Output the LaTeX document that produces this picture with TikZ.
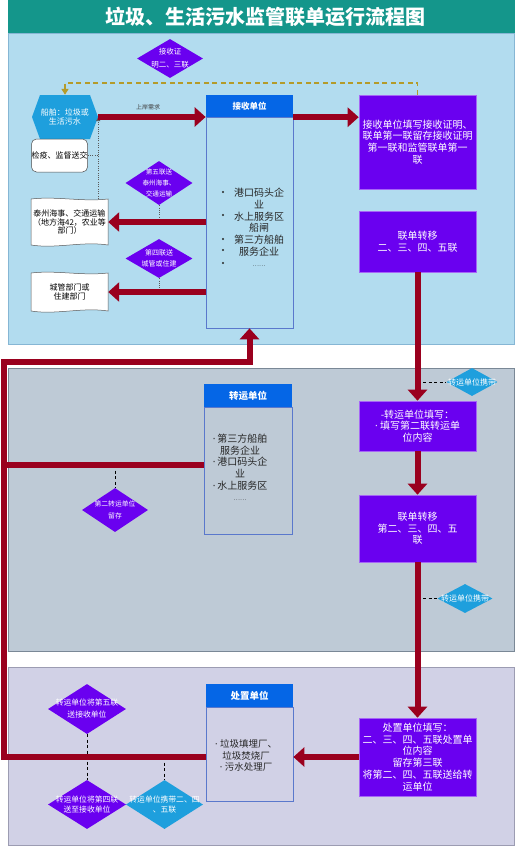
\documentclass[tikz,border=0pt]{standalone}
\usepackage{fontspec}
\setmainfont{Noto Sans CJK SC}
\newfontfamily\latinf{DejaVu Sans}
\usetikzlibrary{arrows.meta,shapes.geometric,calc}
\definecolor{titlec}{HTML}{14968B}
\definecolor{secA}{HTML}{B2DCEF}
\definecolor{secAb}{HTML}{86B6D4}
\definecolor{secB}{HTML}{BECAD6}
\definecolor{secBb}{HTML}{7A8896}
\definecolor{secC}{HTML}{D1D1E6}
\definecolor{secCb}{HTML}{9C9CB2}
\definecolor{pur}{HTML}{6A00F0}
\definecolor{hdrc}{HTML}{0566E6}
\definecolor{cyanc}{HTML}{1E9FDD}
\definecolor{redc}{HTML}{9A001E}
\definecolor{olivec}{HTML}{B49B2A}
\definecolor{bodyc}{HTML}{5A78CC}
\newcommand{\tapeshape}[4]{\draw[docline] (#1,#2) .. controls ({#1+(#3-#1)/3},{#2-3}) and ({#1+2*(#3-#1)/3},{#2+3}) .. (#3,#2) -- (#3,#4) .. controls ({#3-(#3-#1)/3},{#4-4}) and ({#3-2*(#3-#1)/3},{#4+4}) .. (#1,#4) -- cycle;}
\newcommand{\mydot}{{\latinf ·}}
\tikzset{
  docline/.style={draw=gray!70!black, line width=0.5pt, fill=white},
  doctext/.style={inner sep=0, align=center, text=black, minimum width=77, font=\fontsize{8}{8.8}\selectfont},
  purbox/.style={fill=pur, draw=pur!60!white, line width=0.6pt, text=white, align=center, minimum width=117, inner sep=1pt, font=\fontsize{10}{11.7}\selectfont},
  hdr/.style={fill=hdrc, text=white, align=center, inner sep=0, font=\bfseries\fontsize{9.5}{11}\selectfont},
  bodyb/.style={draw=bodyc, line width=0.7pt, inner sep=0},
  listtext/.style={align=center, inner sep=0, text=black!85, font=\fontsize{10}{11.7}\selectfont},
  pdia/.style={diamond, fill=pur, inner sep=0},
  bdia/.style={diamond, fill=cyanc, inner sep=0},
  dtext/.style={align=center, inner sep=0, text=white},
  redl/.style={draw=redc, line width=6pt, line join=miter},
  redarrow/.style={redl, -{Triangle[width=19pt,length=11pt]}},
  olived/.style={draw=olivec, line width=1.6pt, dash pattern=on 5pt off 3.5pt, -{Triangle[width=7pt,length=6pt]}},
  bdash/.style={draw=black, line width=0.9pt, dash pattern=on 3pt off 2.5pt},
  gdot/.style={draw=gray!70!black, line width=0.7pt, dash pattern=on 1pt off 1.3pt},
}
\begin{document}
\begin{tikzpicture}[x=1pt,y=-1pt]
\useasboundingbox (0,0) rectangle (515,847);
\fill[white] (0,0) rectangle (515,847);
% sections
\draw[fill=secA, draw=secAb, line width=0.8pt] (8,33) rectangle (514,344);
\draw[fill=secB, draw=secBb, line width=0.8pt] (8.5,368) rectangle (514,651);
\draw[fill=secC, draw=secCb, line width=0.8pt] (8.5,667) rectangle (514,845);
\node[fill=titlec, minimum width=507, minimum height=33, inner sep=0, anchor=north west, text=white, font=\bfseries\fontsize{20}{22}\selectfont] (title) at (8,0) {\hspace*{7pt}垃圾、生活污水监管联单运行流程图};

% ---- section 1 ----
\fill[cyanc] (32,117) -- (40,95) -- (90,95) -- (98,117) -- (90,139) -- (40,139) -- cycle;
\node[minimum width=66, minimum height=44, inner sep=0, text=white, align=center, font=\fontsize{8}{9.2}\selectfont] (hex) at (65,117) {船舶：垃圾或\\生活污水};
\node[draw=gray!60!black, line width=0.5pt, fill=white, rounded corners=5pt, minimum width=55, minimum height=33, inner sep=0, font=\fontsize{8}{9}\selectfont] (rr) at (59.5,155.5) {检疫、监督送交};
\tapeshape{31}{199}{108}{245}
\node[doctext, minimum height=46] (doc1) at (69.5,222) {泰州海事、交通运输\\（地方海42，农业等\\部门）};
\tapeshape{31}{273}{108}{311}
\node[doctext, minimum height=38] (doc2) at (69.5,292) {城管部门或\\住建部门};

\node[pdia, minimum width=66, minimum height=39] (dA) at (170,58.5) {};
\node[dtext, font=\fontsize{7.5}{13}\selectfont] (dAt) at (dA) {接收证\\明二、三联};
\node[pdia, minimum width=67, minimum height=44] (dB) at (159,183) {};
\node[dtext, font=\fontsize{6.6}{11}\selectfont] (dBt) at (dB) {第五联送\\泰州海事、\\交通运输};
\node[pdia, minimum width=67, minimum height=39] (dC) at (159,258.5) {};
\node[dtext, font=\fontsize{7}{10.5}\selectfont] (dCt) at (dC) {第四联送\\城管或住建};

\node[hdr, minimum width=87, minimum height=22, font=\bfseries\fontsize{8.5}{10}\selectfont] (rh) at (249.5,106) {接收单位};
\node[bodyb, minimum width=87, minimum height=211] (rb) at (249.5,222.5) {};
\node[listtext] (rbt) at (259,227.5) {港口码头企\\业\\水上服务区\\船闸\\第三方船舶\\服务企业\\{\fontsize{6}{6}\selectfont ……}};
\foreach \yy in {192,215,239,250,263} \fill[black!85] (223,\yy) circle (1.2);

\node[purbox, minimum height=94] (b1) at (417.5,142) {接收单位填写接收证明、\\联单第一联留存接收证明\\第一联和监管联单第一\\联};
\node[purbox, minimum height=61] (b2) at (417.5,241.5) {联单转移\\二、三、四、五联};

% ---- section 2 ----
\node[purbox, minimum height=50] (tf) at (417.5,426) {-转运单位填写：\\\mydot\ 填写第二联转运单\\位内容};
\node[purbox, minimum height=67] (t2) at (417.5,528.5) {联单转移\\第二、三、四、五\\联};
\node[hdr, minimum width=88, minimum height=23] (th) at (248,395.5) {转运单位};
\node[bodyb, minimum width=88, minimum height=127] (tb) at (248,470.5) {};
\node[listtext] (tbt) at (240,467.5) {\mydot\,第三方船舶\\服务企业\\\mydot\,港口码头企\\业\\\mydot\,水上服务区\\{\fontsize{6}{6}\selectfont ……}};
\node[bdia, minimum width=51, minimum height=28] (bd1) at (472,382) {};
\node[dtext, font=\fontsize{8}{9}\selectfont] (bd1t) at (bd1) {转运单位携带};
\node[bdia, minimum width=55, minimum height=29] (bd2) at (465,598.5) {};
\node[dtext, font=\fontsize{8}{9}\selectfont] (bd2t) at (bd2) {转运单位携带};
\node[pdia, minimum width=66, minimum height=44] (d2) at (115,510) {};
\node[dtext, font=\fontsize{6.8}{12}\selectfont] (d2t) at (d2) {第二转运单位\\留存};

% ---- section 3 ----
\node[hdr, minimum width=87, minimum height=23] (dh) at (249.5,695.5) {处置单位};
\node[bodyb, minimum width=87, minimum height=94] (db) at (249.5,754) {};
\node[listtext, font=\fontsize{9.5}{11.5}\selectfont] (dbt) at (246,755.5) {\mydot\ 垃圾填埋厂、\\垃圾焚烧厂\\\mydot\ 污水处理厂};
\node[purbox, minimum height=78] (df) at (417.5,757) {处置单位填写：\\二、三、四、五联处置单\\位内容\\留存第三联\\将第二、四、五联送给转\\运单位};
\node[pdia, minimum width=78, minimum height=50] (d5s) at (87,709) {};
\node[dtext, font=\fontsize{7.8}{12}\selectfont] (d5st) at (d5s) {转运单位将第五联\\送接收单位};
\node[pdia, minimum width=78, minimum height=49] (d4s) at (87,804.5) {};
\node[dtext, font=\fontsize{7.8}{10.5}\selectfont] (d4st) at (d4s) {转运单位将第四联\\送至接收单位};
\node[bdia, minimum width=77, minimum height=49] (bd3) at (164.5,804.5) {};
\node[dtext, font=\fontsize{7.8}{10.5}\selectfont] (bd3t) at (bd3) {转运单位携带二、四\\、五联};

% ---- helper coordinates ----
\coordinate (lt) at (4,362);
\coordinate (lb) at (4,757);
\coordinate (tj) at (4,465);

% ---- thin connectors ----
\draw[olived] (b1.north) -- ++(0,-12) -| (hex.north);
\draw[gdot, -{Triangle[width=4pt,length=4pt]}] (hex.east |- doc1.north) -- (hex.east);
\draw[gdot] (rr.east) -- (rr.east -| hex.east);
\draw[gdot] (dB.south) -- (dB.south |- doc1.east);
\draw[gdot] (dC.south) -- (dC.south |- doc2.east);
\draw[bdash] (bd1.west -| b2.south) -- (bd1.west);
\draw[bdash] (bd2.west -| b2.south) -- (bd2.west);
\draw[bdash] (d2.north |- tj) -- (d2.north);
\draw[bdash] (d5s.south) -- (d4s.north);
\draw[bdash] (bd3.north |- df.west) -- (bd3.north);

% ---- red connectors ----
\draw[redarrow] (hex.east) -- (hex.east -| rb.west);
\node[font=\fontsize{6}{7}\selectfont, text=black!75, inner sep=0] (need) at (148,107.5) {上岸需求};
\draw[redarrow] (rh.south east) -- (rh.south east -| b1.west);
\draw[redarrow] (rb.west |- doc1.east) -- (doc1.east);
\draw[redarrow] (rb.west |- doc2.east) -- (doc2.east);
\draw[redarrow] (b2.south) -- (tf.north);
\draw[redarrow] (tf.south) -- (t2.north);
\draw[redarrow] (t2.south) -- (df.north);
\draw[redarrow] (df.west) -- (df.west -| db.east);
\draw[redarrow] (db.west |- df.west) -- (lb) -- (lt) -| (rb.south);
\draw[redl] (tj -| tb.west) -- (tj);
\end{tikzpicture}
\end{document}
